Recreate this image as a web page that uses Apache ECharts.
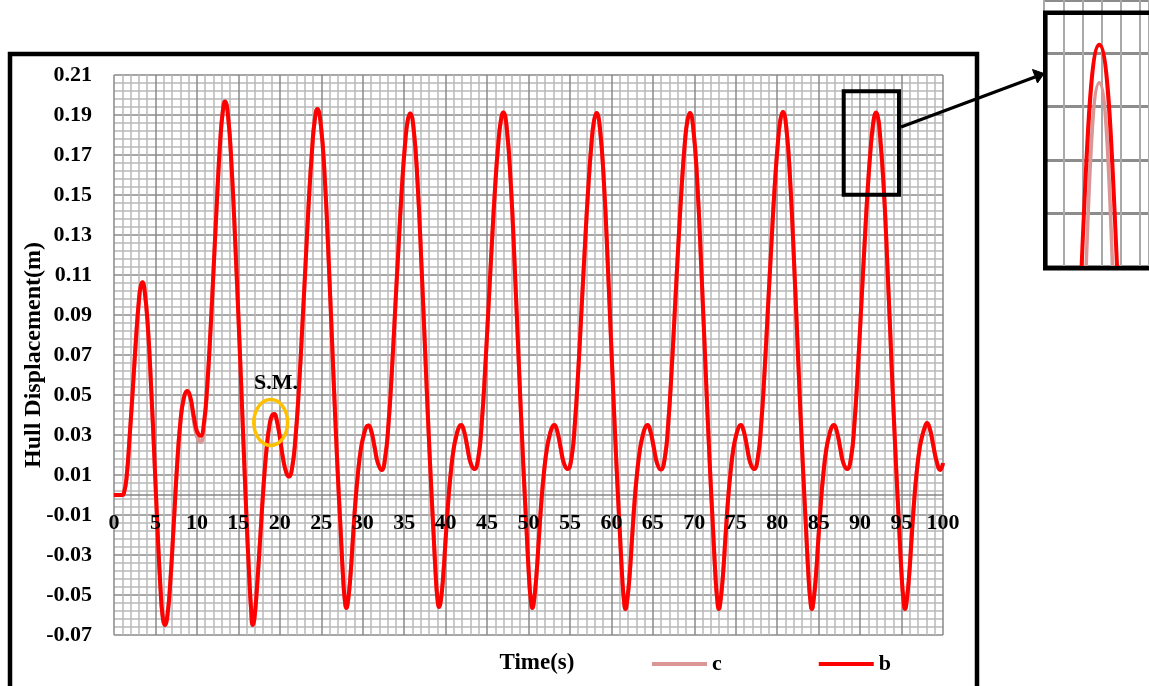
<!DOCTYPE html>
<html>
<head>
<meta charset="utf-8">
<script src="https://cdn.jsdelivr.net/npm/echarts@6/dist/echarts.min.js"></script>
<style>
html,body{margin:0;padding:0;background:#fff;overflow:hidden;}
#chart{width:1149px;height:686px;}
</style>
</head>
<body>
<div id="chart"></div>
<script>
// ---- data ----
const timeS = [
  0,0.5,1.0,1.2,1.5,1.9,2.3,2.7,3.0,3.2,3.42,3.7,4.1,4.5,4.9,5.3,5.6,5.85,6.15,6.45,6.8,7.2,7.6,8.0,8.4,8.85,9.2,9.6,10.0,10.45,10.85,11.25,11.65,12.05,12.45,12.8,13.1,13.39,13.75,14.2,14.65,15.1,15.55,15.95,16.3,16.55,16.73,16.93,17.25,17.6,18.0,18.4,18.8,19.1,19.34,19.6,20.0,20.4,20.8,21.1,21.5,21.9,22.3,22.7,23.1,23.5,23.9,24.2,
  24.53,24.93,25.43,25.93,26.43,26.93,27.33,27.63,27.83,28.03,28.23,28.53,28.83,29.13,29.43,29.78,30.13,30.43,30.68,31.03,31.43,31.83,32.28,
  32.72,33.12,33.52,33.92,34.32,34.72,35.12,35.42,
  35.72,36.12,36.62,37.12,37.62,38.12,38.52,38.82,39.02,39.22,39.42,39.72,40.02,40.32,40.62,40.97,41.32,41.62,41.87,42.22,42.62,43.02,43.47,
  43.96,44.36,44.76,45.16,45.56,45.96,46.36,46.66,
  46.96,47.36,47.86,48.36,48.86,49.36,49.76,50.06,50.26,50.46,50.66,50.96,51.26,51.56,51.86,52.21,52.56,52.86,53.11,53.46,53.86,54.26,54.71,
  55.2,55.6,56.0,56.4,56.8,57.2,57.6,57.9,
  58.2,58.6,59.1,59.6,60.1,60.6,61.0,61.3,61.5,61.7,61.9,62.2,62.5,62.8,63.1,63.45,63.8,64.1,64.35,64.7,65.1,65.5,65.95,
  66.46,66.86,67.26,67.66,68.06,68.46,68.86,69.16,
  69.46,69.86,70.36,70.86,71.36,71.86,72.26,72.56,72.76,72.96,73.16,73.46,73.76,74.06,74.36,74.71,75.06,75.36,75.61,75.96,76.36,76.76,77.21,
  77.68,78.08,78.48,78.88,79.28,79.68,80.08,80.38,
  80.68,81.08,81.58,82.08,82.58,83.08,83.48,83.78,83.98,84.18,84.38,84.68,84.98,85.28,85.58,85.93,86.28,86.58,86.83,87.18,87.58,87.98,88.43,
  88.92,89.32,89.72,90.12,90.52,90.92,91.32,91.52,91.72,
  91.92,92.12,92.32,92.82,93.32,93.82,94.32,94.72,95.02,95.22,95.42,95.62,95.92,96.22,96.52,96.82,97.17,97.52,97.82,98.07,98.42,98.82,99.22,99.67,100
];
const hullB = [
  0,0,0,0.001,0.008,0.030,0.055,0.081,0.097,0.104,0.1064,0.102,0.083,0.052,0.016,-0.022,-0.046,-0.060,-0.065,-0.060,-0.043,-0.015,0.014,0.036,0.048,0.052,0.049,0.040,0.032,0.0296,0.036,0.055,0.083,0.116,0.150,0.176,0.191,0.1968,0.190,0.163,0.124,0.080,0.033,-0.008,-0.040,-0.058,-0.065,-0.062,-0.046,-0.024,0.002,0.023,0.036,0.040,0.0405,0.038,0.029,0.018,0.011,0.0093,0.014,0.029,0.053,0.083,0.115,0.147,0.173,0.187,
  0.193,0.186,0.158,0.114,0.064,0.016,-0.017,-0.041,-0.052,-0.0565,-0.053,-0.040,-0.021,-0.003,0.011,0.023,0.030,0.034,0.0347,0.032,0.024,0.016,0.0125,
  0.019,0.036,0.062,0.093,0.124,0.153,0.176,0.187,
  0.1908,0.184,0.156,0.112,0.063,0.016,-0.017,-0.041,-0.052,-0.056,-0.053,-0.040,-0.021,-0.003,0.011,0.023,0.030,0.034,0.035,0.032,0.024,0.016,0.013,
  0.019,0.036,0.062,0.093,0.124,0.153,0.176,0.187,
  0.1913,0.184,0.156,0.112,0.063,0.016,-0.017,-0.041,-0.052,-0.0565,-0.053,-0.040,-0.021,-0.003,0.011,0.023,0.030,0.034,0.035,0.032,0.024,0.016,0.013,
  0.019,0.036,0.062,0.093,0.124,0.153,0.176,0.187,
  0.191,0.184,0.156,0.112,0.063,0.016,-0.017,-0.041,-0.052,-0.057,-0.053,-0.040,-0.021,-0.003,0.011,0.023,0.030,0.034,0.035,0.032,0.024,0.016,0.0127,
  0.019,0.036,0.062,0.093,0.124,0.153,0.176,0.187,
  0.191,0.184,0.156,0.112,0.063,0.016,-0.017,-0.041,-0.052,-0.057,-0.053,-0.040,-0.021,-0.003,0.011,0.023,0.030,0.034,0.035,0.032,0.024,0.016,0.013,
  0.019,0.036,0.062,0.093,0.124,0.153,0.176,0.1875,
  0.1915,0.1845,0.156,0.112,0.063,0.016,-0.017,-0.041,-0.052,-0.057,-0.053,-0.040,-0.021,-0.003,0.011,0.023,0.030,0.034,0.035,0.032,0.024,0.016,0.013,
  0.019,0.036,0.062,0.093,0.124,0.153,0.176,0.1841,0.18953,
  0.1913,0.18953,0.1841,0.156,0.112,0.063,0.016,-0.017,-0.041,-0.052,-0.057,-0.053,-0.040,-0.021,-0.003,0.011,0.023,0.030,0.034,0.036,0.033,0.025,0.017,0.0125,0.016
];
const hullC = [
  0,0,0,0.001,0.008,0.030,0.055,0.081,0.097,0.104,0.1064,0.102,0.083,0.052,0.016,-0.022,-0.046,-0.060,-0.065,-0.060,-0.043,-0.015,0.014,0.036,0.048,0.052,0.0485,0.038,0.0295,0.0265,0.034,0.054,0.083,0.116,0.150,0.176,0.191,0.1968,0.190,0.163,0.124,0.080,0.033,-0.008,-0.040,-0.058,-0.065,-0.062,-0.046,-0.024,0.002,0.023,0.036,0.040,0.0405,0.038,0.029,0.018,0.011,0.0093,0.014,0.029,0.053,0.083,0.115,0.147,0.173,0.187,
  0.193,0.186,0.158,0.114,0.064,0.016,-0.017,-0.041,-0.052,-0.0565,-0.053,-0.040,-0.021,-0.003,0.011,0.023,0.030,0.034,0.0347,0.032,0.024,0.016,0.0125,
  0.019,0.036,0.062,0.093,0.124,0.153,0.176,0.187,
  0.1908,0.184,0.156,0.112,0.063,0.016,-0.017,-0.041,-0.052,-0.056,-0.053,-0.040,-0.021,-0.003,0.011,0.023,0.030,0.034,0.035,0.032,0.024,0.016,0.013,
  0.019,0.036,0.062,0.093,0.124,0.153,0.176,0.187,
  0.1913,0.184,0.156,0.112,0.063,0.016,-0.017,-0.041,-0.052,-0.0565,-0.053,-0.040,-0.021,-0.003,0.011,0.023,0.030,0.034,0.035,0.032,0.024,0.016,0.013,
  0.019,0.036,0.062,0.093,0.124,0.153,0.176,0.187,
  0.191,0.184,0.156,0.112,0.063,0.016,-0.017,-0.041,-0.052,-0.057,-0.053,-0.040,-0.021,-0.003,0.011,0.023,0.030,0.034,0.035,0.032,0.024,0.016,0.0127,
  0.019,0.036,0.062,0.093,0.124,0.153,0.176,0.187,
  0.191,0.184,0.156,0.112,0.063,0.016,-0.017,-0.041,-0.052,-0.057,-0.053,-0.040,-0.021,-0.003,0.011,0.023,0.030,0.034,0.035,0.032,0.024,0.016,0.013,
  0.019,0.036,0.062,0.093,0.124,0.153,0.176,0.1875,
  0.1915,0.1845,0.156,0.112,0.063,0.016,-0.017,-0.041,-0.052,-0.057,-0.053,-0.040,-0.021,-0.003,0.011,0.023,0.030,0.034,0.035,0.032,0.024,0.016,0.013,
  0.019,0.036,0.062,0.093,0.124,0.153,0.176,0.1815,0.1883,
  0.1909,0.1883,0.1815,0.156,0.112,0.063,0.016,-0.017,-0.041,-0.052,-0.057,-0.053,-0.040,-0.021,-0.003,0.011,0.023,0.030,0.034,0.036,0.033,0.025,0.017,0.0125,0.016
];
const seriesNames = ['c', 'b'];
const xTickStep = 5;
const yTickStep = 0.02;
const yTitle = 'Hull Displacement(m)';
const xTitle = 'Time(s)';
const noteText = 'S.M.';

// ---- chart ----
const FONT = "'Liberation Serif', 'Times New Roman', serif";
const n = Math.min(timeS.length, hullB.length, hullC.length);
const dataB = [], dataC = [];
for (let i = 0; i < n; i++) { dataB.push([timeS[i], hullB[i]]); dataC.push([timeS[i], hullC[i]]); }

const PINK = '#d99694', RED = '#ff0000';
const chart = echarts.init(document.getElementById('chart'), null, {renderer: 'canvas'});

function lineSeries(name, data, color, width, xi, yi, z) {
  return {
    name: name, type: 'line', data: data, xAxisIndex: xi, yAxisIndex: yi,
    smooth: 0.5, showSymbol: false, symbol: 'none', z: z,
    itemStyle: {color: color}, lineStyle: {color: color, width: width},
    emphasis: {disabled: true}, clip: true
  };
}

// inset: 76.8 px per second, 54.1 px per 0.00056 m
const insetLeft = 1044.1, insetWidth = 1149 - 1044.1;
const insetXMin = 91.2012, insetXMax = insetXMin + insetWidth / 76.8;

const option = {
  animation: false,
  backgroundColor: '#ffffff',
  grid: [
    {left: 114, right: 206, top: 75, bottom: 51, containLabel: false},
    {left: insetLeft, top: -4.1, width: insetWidth, height: 270.5, containLabel: false}
  ],
  legend: {
    data: seriesNames, left: 647, top: 648, icon: 'rect', itemWidth: 55, itemHeight: 4,
    itemGap: 97, selectedMode: false,
    textStyle: {fontFamily: FONT, fontWeight: 'bold', fontSize: 22, color: '#000'}
  },
  xAxis: [
    { // grid lines + axis line at zero
      type: 'value', gridIndex: 0, min: 0, max: 100, interval: xTickStep, position: 'bottom',
      axisLine: {show: true, onZero: true, lineStyle: {color: '#868686', width: 1.5}},
      axisTick: {show: false}, axisLabel: {show: false},
      splitLine: {show: true, lineStyle: {color: '#8a8a8a', width: 1.5}},
      minorTick: {show: false, splitNumber: 5},
      minorSplitLine: {show: true, lineStyle: {color: '#b9b9b9', width: 1.5}}
    },
    { // tick labels drawn above the curves, placed at the zero line
      type: 'value', gridIndex: 0, min: 0, max: 100, interval: xTickStep, position: 'bottom', offset: -140, z: 10,
      axisLine: {show: false, onZero: false},
      axisTick: {show: false}, splitLine: {show: false},
      axisLabel: {show: true, margin: 17, color: '#000', fontFamily: FONT, fontWeight: 'bold', fontSize: 22,
        showMinLabel: true, showMaxLabel: true}
    },
    { // inset
      type: 'value', gridIndex: 1, min: insetXMin, max: insetXMax, interval: 0.25,
      axisLine: {show: false, onZero: false}, axisTick: {show: false}, axisLabel: {show: false},
      splitLine: {show: true, lineStyle: {color: '#a9a9a9', width: 2}}
    }
  ],
  yAxis: [
    {
      type: 'value', gridIndex: 0, min: -0.07, max: 0.21, interval: yTickStep,
      axisLine: {show: false}, axisTick: {show: false},
      axisLabel: {show: true, margin: 22, color: '#000', fontFamily: FONT, fontWeight: 'bold', fontSize: 22,
        formatter: function (v) { return v.toFixed(2); }},
      splitLine: {show: true, lineStyle: {color: '#8a8a8a', width: 1.5}},
      minorTick: {show: false, splitNumber: 5},
      minorSplitLine: {show: true, lineStyle: {color: '#b9b9b9', width: 1.5}}
    },
    {
      type: 'value', gridIndex: 1, min: 0.18897, max: 0.19177, interval: 0.00056,
      axisLine: {show: false}, axisTick: {show: false}, axisLabel: {show: false},
      splitLine: {show: true, lineStyle: {color: '#8c8c8c', width: 2.8}}
    }
  ],
  series: [
    lineSeries(seriesNames[0], dataC, PINK, 4, 0, 0, 2),
    lineSeries(seriesNames[1], dataB, RED, 4, 0, 0, 3),
    lineSeries(seriesNames[0], dataC, PINK, 3.5, 2, 1, 2),
    lineSeries(seriesNames[1], dataB, RED, 4, 2, 1, 3)
  ],
  graphic: [
    {type: 'rect', z: 100, shape: {x: 10, y: 54, width: 967, height: 700},
      style: {fill: 'none', stroke: '#000', lineWidth: 4.5}},
    {type: 'rect', z: 100, shape: {x: 843.7, y: 91.3, width: 55.3, height: 103.4},
      style: {fill: 'none', stroke: '#000', lineWidth: 4}},
    {type: 'line', z: 100, shape: {x1: 901, y1: 127, x2: 1035, y2: 77},
      style: {stroke: '#000', lineWidth: 3.3}},
    {type: 'polygon', z: 100, shape: {points: [[1044, 73.5], [1032.5, 69.5], [1037.5, 83]]},
      style: {fill: '#000', stroke: '#000', lineWidth: 1}},
    {type: 'rect', z: 100, shape: {x: 1045.3, y: 12.7, width: 200, height: 255.6},
      style: {fill: 'none', stroke: '#000', lineWidth: 4.6}},
    {type: 'ellipse', z: 100, shape: {cx: 270.7, cy: 422.5, rx: 16.9, ry: 22.9},
      style: {fill: 'none', stroke: '#ffc000', lineWidth: 3.5}},
    {type: 'text', z: 100, x: 276, y: 383,
      style: {text: noteText, fill: '#000', font: 'bold 22px ' + FONT, textAlign: 'center', textVerticalAlign: 'middle', align: 'center', verticalAlign: 'middle'}},
    {type: 'text', z: 100, x: 537, y: 663,
      style: {text: xTitle, fill: '#000', font: 'bold 23px ' + FONT, textAlign: 'center', textVerticalAlign: 'middle', align: 'center', verticalAlign: 'middle'}},
    {type: 'text', z: 100, x: 34, y: 355, rotation: Math.PI / 2,
      style: {text: yTitle, fill: '#000', font: 'bold 24px ' + FONT, textAlign: 'center', textVerticalAlign: 'middle', align: 'center', verticalAlign: 'middle'}}
  ]
};
chart.setOption(option);
</script>
</body>
</html>
